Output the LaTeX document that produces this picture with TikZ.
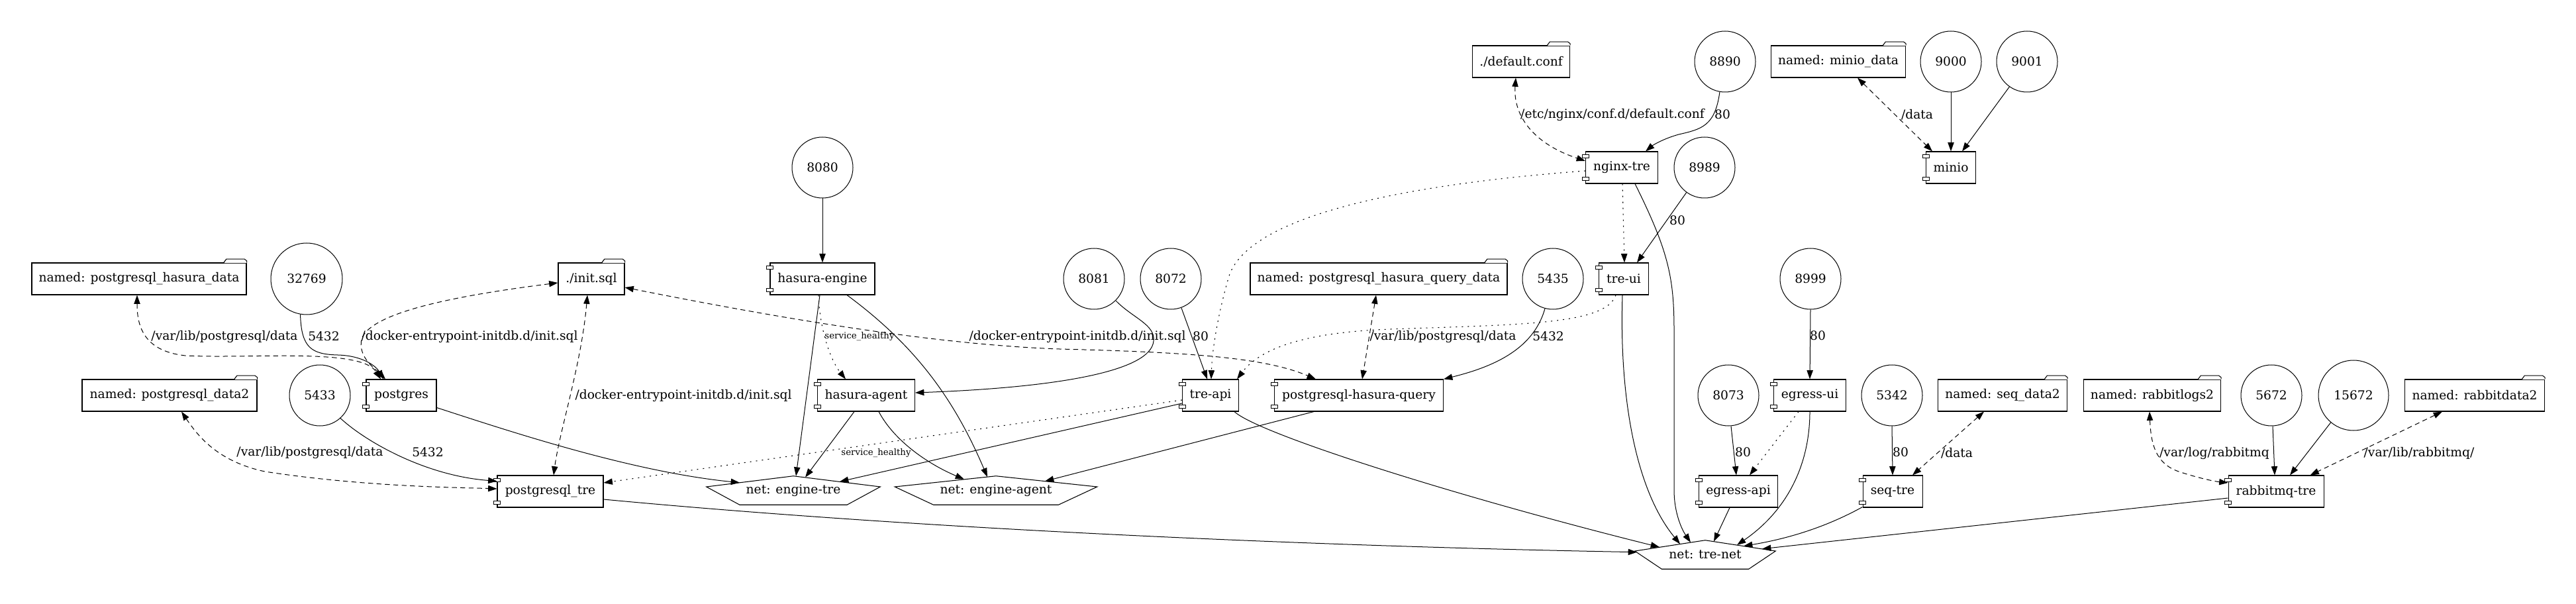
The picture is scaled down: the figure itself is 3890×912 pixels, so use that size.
\documentclass[tikz,border=0pt]{standalone}
\usepackage{fontspec}
\setmainfont{DejaVu Serif}
\usetikzlibrary{arrows.meta,calc}
\begin{document}
\begin{tikzpicture}[x=0.75pt,y=-0.75pt,
  font=\fontsize{14pt}{17pt}\selectfont,
  >={Triangle[length=10pt,width=7pt]},
  shpbox/.style={draw, line width=0.8pt, fill=white, inner sep=0pt, minimum height=36pt},
  svcbox/.style={shpbox},
  volbox/.style={shpbox},
  portc/.style={draw, line width=0.75pt, circle, inner sep=0pt, minimum size=69pt},
  netbox/.style={inner sep=0pt, minimum height=32.25pt},
  elbl/.style={inner sep=0pt},
  esmall/.style={inner sep=0pt, font=\fontsize{10pt}{12pt}\selectfont},
  eport/.style={line width=0.75pt, ->},
  enet/.style={line width=0.75pt, ->},
  evol/.style={line width=0.75pt, <->, dash pattern=on 5.5pt off 4pt},
  edep/.style={line width=0.8pt, ->, dash pattern=on 1.5pt off 5.25pt},
]
\fill[white] (0,0) rectangle (3890,912);
\useasboundingbox (0,0) rectangle (3890,912);

% ---------- nodes ----------
\node[volbox, minimum width=243pt] (vhasura) at (210,421) {named: postgresql\_hasura\_data};
\node[portc, minimum size=81pt] (p32769) at (463,421) {32769};
\node[volbox, minimum width=75pt] (vinit) at (893,421) {./init.sql};
\node[volbox, minimum width=198pt] (vdata2) at (256,597) {named: postgresql\_data2};
\node[portc] (p5433) at (483,597) {5433};
\node[svcbox, minimum width=79.5pt] (postgres) at (606,597) {postgres};
\node[svcbox, minimum width=120pt] (pgtre) at (831,742) {postgresql\_tre};
\node[portc] (p8080) at (1242,253) {8080};
\node[svcbox, minimum width=118.5pt] (hengine) at (1242,421) {hasura-engine};
\node[svcbox, minimum width=110.25pt] (hagent) at (1308,597) {hasura-agent};
\node[portc] (p8081) at (1652,421) {8081};
\node[portc] (p8072) at (1768,421) {8072};
\node[svcbox, minimum width=63.75pt] (treapi) at (1828,597) {tre-api};
\node[volbox, minimum width=291pt] (vhqd) at (2082,421) {named: postgresql\_hasura\_query\_data};
\node[svcbox, minimum width=191.25pt] (pghq) at (2052,597) {postgresql-hasura-query};
\node[portc] (p5435) at (2345,421) {5435};
\node[svcbox, minimum width=56.25pt] (treui) at (2452,421) {tre-ui};
\node[volbox, minimum width=110.25pt] (vconf) at (2297,93) {./default.conf};
\node[portc] (p8890) at (2605,93) {8890};
\node[svcbox, minimum width=81.75pt] (nginx) at (2449,253) {nginx-tre};
\node[portc] (p8989) at (2574,253) {8989};
\node[volbox, minimum width=152.25pt] (vminio) at (2776,93) {named: minio\_data};
\node[portc] (p9000) at (2946,93) {9000};
\node[portc] (p9001) at (3061,93) {9001};
\node[svcbox, minimum width=56.25pt] (minio) at (2946,253) {minio};
\node[portc] (p8999) at (2734,421) {8999};
\node[portc] (p8073) at (2610,597) {8073};
\node[svcbox, minimum width=81.75pt] (egressui) at (2733,597) {egress-ui};
\node[svcbox, minimum width=89.25pt] (egressapi) at (2625,742) {egress-api};
\node[portc] (p5342) at (2857,597) {5342};
\node[svcbox, minimum width=67.5pt] (seqtre) at (2858,742) {seq-tre};
\node[volbox, minimum width=146.25pt] (vseq) at (3024,597) {named: seq\_data2};
\node[volbox, minimum width=155.25pt] (vrlogs) at (3250,597) {named: rabbitlogs2};
\node[portc] (p5672) at (3430,597) {5672};
\node[portc, minimum size=79.5pt] (p15672) at (3554,597) {15672};
\node[volbox, minimum width=158.25pt] (vrdata) at (3737,597) {named: rabbitdata2};
\node[svcbox, minimum width=108pt] (rabbit) at (3437,742) {rabbitmq-tre};
\node[netbox, minimum width=196.5pt] (etre) at (1198,740.5) {net: engine-tre};
\node[netbox, minimum width=228.75pt] (eagent) at (1504,740.5) {net: engine-agent};
\node[netbox, minimum width=159pt] (trenet) at (2575,837.5) {net: tre-net};

% network pentagons
\foreach \n in {etre,eagent,trenet}{
  \draw[line width=0.8pt] (\n.north) -- ([yshift=4.1pt]\n.east) -- ($(\n.south east)!0.382!(\n.south)$) -- ($(\n.south west)!0.382!(\n.south)$) -- ([yshift=4.1pt]\n.west) -- cycle;}

% component decorations
\foreach \n in {postgres,pgtre,hengine,hagent,treapi,pghq,treui,nginx,minio,egressui,egressapi,seqtre,rabbit}{
  \draw[fill=white,line width=0.6pt] ([xshift=-3.75pt,yshift=-3.75pt]\n.north west) rectangle ++(7.5pt,-4pt);
  \draw[fill=white,line width=0.6pt] ([xshift=-3.75pt,yshift=3.75pt]\n.south west) rectangle ++(7.5pt,4pt);}

% folder tabs
\foreach \n in {vhasura,vinit,vdata2,vhqd,vconf,vminio,vseq,vrlogs,vrdata}{
  \fill[white] ([xshift=-25.6pt,yshift=-0.5pt]\n.north east) -- ([xshift=-23pt,yshift=4pt]\n.north east) -- ([xshift=-2.6pt,yshift=4pt]\n.north east) -- ([yshift=2pt]\n.north east) -- ([yshift=-0.5pt]\n.north east) -- cycle;
  \draw[line width=0.8pt, line join=round] ([xshift=-26pt]\n.north east) -- ([xshift=-23pt,yshift=4pt]\n.north east) -- ([xshift=-2.6pt,yshift=4pt]\n.north east) -- ([yshift=2pt]\n.north east) -- (\n.north east);}

% ---------- edges ----------
% postgres
\draw[evol] ($(vhasura.south)+(-3,0)$) .. controls (207,490) and (215,530) .. (280,537) .. controls (380,542) and (545,525) .. ($(postgres.north)+(-31,0)$);
\draw[eport] (p32769.-100) .. controls (455,525) and (470,535) .. (510,536) .. controls (548,537) and (568,553) .. ($(postgres.north)+(-27,0)$);
\draw[evol] ($(vinit.west)+(0,6)$) .. controls (700,445) and (560,470) .. (546,512) .. controls (540,540) and (568,558) .. ($(postgres.north)+(-24,0)$);
\draw[enet] ($(postgres.south east)+(0,-6)$) .. controls (760,648) and (950,712) .. ($(etre.north)+(-81,10)$);
% postgresql_tre
\draw[evol] ($(vdata2.south)+(18,0)$) .. controls (300,660) and (330,697) .. (400,712) .. controls (550,735) and (690,736) .. ($(pgtre.west)+(0,-4)$);
\draw[eport] (p5433.-48) .. controls (550,665) and (640,718) .. ($(pgtre.north west)+(0,9)$);
\draw[evol] ($(vinit.south)+(-6,0)$) .. controls (878,550) and (845,650) .. ($(pgtre.north)+(5,0)$);
\draw[enet] ($(pgtre.east)+(0,12)$) .. controls (1400,800) and (2000,825) .. ($(trenet.north)+(-103,18)$);
% hasura-engine
\draw[eport] (p8080.south) -- (hengine.north);
\draw[enet] ($(hengine.south)+(-4,0)$) -- ($(etre.north)+(4,0)$);
\draw[enet] ($(hengine.south)+(37,0)$) .. controls (1380,520) and (1440,600) .. ($(eagent.north)+(-13,1.4)$);
\draw[edep] ($(hengine.south)+(-6,0)$) .. controls (1238,500) and (1255,545) .. ($(hagent.north)+(-31,0)$);
% hasura-agent
\draw[eport] (p8081.-45) .. controls (1710,480) and (1745,490) .. (1742,515) .. controls (1738,560) and (1600,585) .. ($(hagent.east)+(0,-4)$);
\draw[enet] ($(hagent.south)+(-18,0)$) -- ($(etre.north)+(18,2)$);
\draw[enet] ($(hagent.south)+(19,0)$) .. controls (1350,665) and (1400,700) .. ($(eagent.north)+(-48,5)$);
% tre-api
\draw[eport] (p8072.-70) -- ($(treapi.north)+(-5,0)$);
\draw[enet] ($(treapi.west)+(0,12)$) -- ($(etre.north)+(70,8.5)$);
\draw[enet] ($(treapi.south)+(36,0)$) .. controls (1900,655) and (2200,750) .. ($(trenet.north)+(-69,10.4)$);
\draw[edep] ($(treapi.west)+(0,7)$) -- ($(pgtre.east)+(0,-13)$);
% postgresql-hasura-query
\draw[evol] ($(vinit.east)+(0,13)$) .. controls (1150,475) and (1400,520) .. (1600,527) .. controls (1800,532) and (1910,540) .. ($(pghq.north west)+(63,0)$);
\draw[evol] ($(vhqd.south)+(-4,0)$) -- ($(pghq.north)+(5,0)$);
\draw[eport] (p5435.-105) .. controls (2315,530) and (2250,555) .. (pghq.north east);
\draw[enet] ($(pghq.south)+(-68,0)$) -- ($(eagent.north)+(74,7.8)$);
% nginx-tre
\draw[evol] ($(vconf.south)+(-8,0)$) .. controls (2285,170) and (2310,215) .. ($(nginx.west)+(0,-10)$);
\draw[eport] (p8890.-100) .. controls (2590,190) and (2570,195) .. (2535,203) .. controls (2510,210) and (2495,220) .. ($(nginx.north east)+(-19,0)$);
\draw[edep] ($(nginx.west)+(0,5)$) .. controls (2100,280) and (1880,330) .. (1855,420) .. controls (1835,490) and (1830,540) .. ($(treapi.north)+(1,0)$);
\draw[edep] ($(nginx.south)+(1,0)$) -- ($(treui.north)+(1,0)$);
\draw[enet] ($(nginx.south)+(20,0)$) .. controls (2520,380) and (2528,420) .. (2528,500) -- (2528,740) .. controls (2528,775) and (2540,800) .. ($(trenet.north)+(-22,3.3)$);
% tre-ui
\draw[eport] (p8989.-126) -- ($(treui.north)+(20,0)$);
\draw[edep] ($(treui.south)+(-12,0)$) .. controls (2425,490) and (2300,490) .. (2100,497) .. controls (1960,502) and (1900,530) .. ($(treapi.north)+(40,0)$);
\draw[enet] ($(treui.south)+(-2,0)$) .. controls (2445,600) and (2470,740) .. ($(trenet.north)+(-38,5.7)$);
% minio
\draw[evol] ($(vminio.south)+(29,0)$) -- ($(minio.north west)+(10,0)$);
\draw[eport] (p9000.south) -- (minio.north);
\draw[eport] (p9001.-125) -- ($(minio.north)+(17,0)$);
% egress
\draw[eport] (p8999.south) -- (egressui.north);
\draw[edep] ($(egressui.south)+(-17,0)$) -- ($(egressapi.north)+(17,0)$);
\draw[enet] (egressui.south) .. controls (2733,700) and (2700,770) .. ($(trenet.north)+(48,7.2)$);
\draw[eport] ($(p8073.south)+(4,0)$) -- ($(egressapi.north)+(-3,0)$);
\draw[enet] ($(egressapi.south)+(-13,0)$) -- ($(trenet.north)+(13,2)$);
% seq
\draw[eport] (p5342.south) -- (seqtre.north);
\draw[evol] ($(vseq.south)+(-28,0)$) -- ($(seqtre.north)+(30,0)$);
\draw[enet] ($(seqtre.south west)+(0,-1)$) .. controls (2750,800) and (2690,815) .. ($(trenet.north)+(58,8.8)$);
% rabbit
\draw[enet] ($(rabbit.west)+(0,10)$) -- ($(trenet.north)+(86,13)$);
\draw[evol] ($(vrlogs.south)+(-4,0)$) .. controls (3248,670) and (3255,700) .. (3290,712) .. controls (3320,722) and (3345,727) .. ($(rabbit.west)+(0,-13)$);
\draw[eport] ($(p5672.south)+(2,0)$) -- ($(rabbit.north)+(-2,0)$);
\draw[eport] (p15672.-130) -- ($(rabbit.north)+(21,0)$);
\draw[evol] ($(vrdata.south)+(-49,0)$) -- ($(rabbit.north east)+(-21,0)$);

% ---------- labels ----------
\node[elbl] (l1) at (339,508) {/var/lib/postgresql/data};
\node[elbl] (l2) at (489,508) {5432};
\node[elbl] (l3) at (709,508) {/docker-entrypoint-initdb.d/init.sql};
\node[elbl] (l4) at (468,683) {/var/lib/postgresql/data};
\node[elbl] (l5) at (646,683) {5432};
\node[elbl] (l6) at (1032,597) {/docker-entrypoint-initdb.d/init.sql};
\node[esmall] (l7) at (1298,508) {service\_healthy};
\node[esmall] (l8) at (1323,684) {service\_healthy};
\node[elbl] (l9) at (1627,508) {/docker-entrypoint-initdb.d/init.sql};
\node[elbl] (l10) at (1813,508) {80};
\node[elbl] (l11) at (2179,508) {/var/lib/postgresql/data};
\node[elbl] (l12) at (2338,508) {5432};
\node[elbl] (l13) at (2435,173) {/etc/nginx/conf.d/default.conf};
\node[elbl] (l14) at (2601,173) {80};
\node[elbl] (l15) at (2895,173) {/data};
\node[elbl] (l16) at (2533,333) {80};
\node[elbl] (l17) at (2745,507) {80};
\node[elbl] (l18) at (2632,683) {80};
\node[elbl] (l19) at (2870,683) {80};
\node[elbl] (l20) at (2955,684) {/data};
\node[elbl] (l21) at (3344,684) {/var/log/rabbitmq};
\node[elbl] (l22) at (3653,684) {/var/lib/rabbitmq/};
\end{tikzpicture}
\end{document}
